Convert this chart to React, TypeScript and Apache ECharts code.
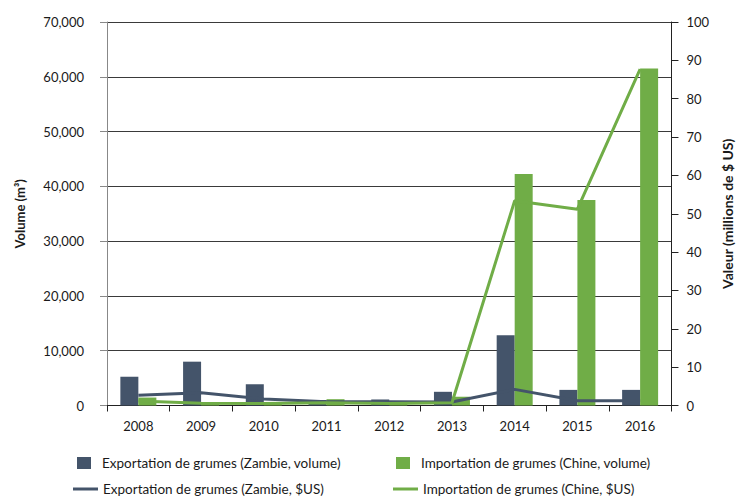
import React, { useEffect, useRef } from "react";
import * as echarts from "echarts";

const years = ["2008", "2009", "2010", "2011", "2012", "2013", "2014", "2015", "2016"];
const zambiaVolume = [5250, 8000, 3900, 1000, 1100, 2500, 12800, 2850, 2850];
const chinaVolume = [1450, 400, 300, 1150, 350, 1600, 42250, 37500, 61500];
const zambiaValue = [2.7, 3.3, 1.7, 1.0, 1.0, 0.9, 4.2, 1.25, 1.25];
const chinaValue = [1.2, 0.6, 0.5, 0.7, 0.5, 0.7, 53.4, 51.2, 87.7];

const names = [
  "Exportation de grumes (Zambie, volume)",
  "Importation de grumes (Chine, volume)",
  "Exportation de grumes (Zambie, $US)",
  "Importation de grumes (Chine, $US)",
];

const DARK = "#44546a";
const GREEN = "#70ad47";
const FONT = "Lato";

export default function App() {
  const ref = useRef<HTMLDivElement>(null);
  useEffect(() => {
    const chart = echarts.init(ref.current!, null, { renderer: "svg" });
    const legendText = { color: "#1a1a1a", fontSize: 13.5, fontFamily: FONT, lineHeight: 16 };
    const mkLegend = (name: string, left: number, top: number, isBar: boolean) => ({
      show: true,
      left,
      top,
      orient: "horizontal",
      data: [{ name, icon: "rect" }],
      itemWidth: isBar ? 14 : 25,
      itemHeight: isBar ? 12 : 3,
      itemGap: 0,
      selectedMode: false,
      padding: 0,
      textStyle: isBar ? { ...legendText, padding: [0, 0, 0, 6] } : legendText,
    });
    chart.setOption({
      animation: false,
      textStyle: { fontFamily: FONT },
      grid: { left: 107, right: 65, top: 22, bottom: 91.5 },
      legend: [
        mkLegend(names[0], 77, 455, true),
        mkLegend(names[1], 396, 455, true),
        mkLegend(names[2], 73, 481, false),
        mkLegend(names[3], 393, 481, false),
      ],
      xAxis: {
        type: "category",
        data: years,
        boundaryGap: true,
        axisLine: { lineStyle: { color: "#222", width: 1 } },
        axisTick: { show: true, length: 6, lineStyle: { color: "#222" } },
        axisLabel: { color: "#1a1a1a", fontSize: 13, margin: 14, fontFamily: FONT },
      },
      yAxis: [
        {
          type: "value",
          min: 0,
          max: 70000,
          interval: 10000,
          name: "Volume (m³)",
          nameLocation: "middle",
          nameGap: 81,
          nameTextStyle: { fontWeight: "bold", fontSize: 13, color: "#1a1a1a", fontFamily: FONT },
          axisLine: { show: true, lineStyle: { color: "#888", width: 1 } },
          axisTick: { show: true, length: 7, lineStyle: { color: "#888" } },
          axisLabel: {
            color: "#1a1a1a",
            fontSize: 13,
            margin: 23,
            fontFamily: FONT,
            formatter: (v: number) => v.toLocaleString("en-US"),
          },
          splitLine: { show: true, lineStyle: { color: "#3a3a3a", width: 1 } },
        },
        {
          type: "value",
          min: 0,
          max: 100,
          interval: 10,
          position: "right",
          name: "Valeur (millions de $ US)",
          nameLocation: "middle",
          nameGap: 47,
          nameTextStyle: { fontWeight: "bold", fontSize: 14, color: "#1a1a1a", fontFamily: FONT },
          axisLine: { show: true, lineStyle: { color: "#222", width: 1 } },
          axisTick: { show: true, length: 7, lineStyle: { color: "#222" } },
          axisLabel: { color: "#1a1a1a", fontSize: 13, margin: 15, fontFamily: FONT },
          splitLine: { show: false },
        },
      ],
      series: [
        {
          name: names[0],
          type: "bar",
          data: zambiaVolume,
          yAxisIndex: 0,
          barWidth: 18,
          barGap: "0%",
          itemStyle: { color: DARK },
        },
        {
          name: names[1],
          type: "bar",
          data: chinaVolume,
          yAxisIndex: 0,
          barWidth: 18,
          barGap: "0%",
          itemStyle: { color: GREEN },
        },
        {
          name: names[2],
          type: "line",
          data: zambiaValue,
          yAxisIndex: 1,
          showSymbol: false,
          symbol: "none",
          lineStyle: { color: DARK, width: 3 },
          itemStyle: { color: DARK },
        },
        {
          name: names[3],
          type: "line",
          data: chinaValue,
          yAxisIndex: 1,
          showSymbol: false,
          symbol: "none",
          lineStyle: { color: GREEN, width: 3 },
          itemStyle: { color: GREEN },
        },
      ],
    });
    return () => chart.dispose();
  }, []);
  return <div ref={ref} style={{ width: 742, height: 497, position: "absolute", left: 0, top: 0 }} />;
}
